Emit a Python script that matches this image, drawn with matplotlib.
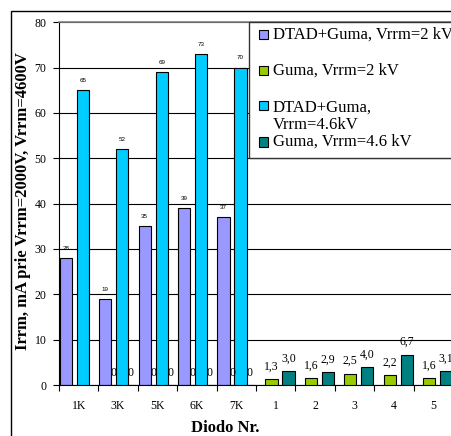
import numpy as np
import matplotlib
matplotlib.use("Agg")
import matplotlib.pyplot as plt
from matplotlib.patches import Rectangle

# Reverse current of the diodes, grouped by diode number
categories = ["1K", "3K", "5K", "6K", "7K", "1", "2", "3", "4", "5"]
nan = np.nan
dtad_2kv = [28, 19, 35, 39, 37, nan, nan, nan, nan, nan]
guma_2kv = [nan, 0, 0, 0, 0, 1.3, 1.6, 2.5, 2.2, 1.6]
dtad_46kv = [65, 52, 69, 73, 70, nan, nan, nan, nan, nan]
guma_46kv = [nan, 0, 0, 0, 0, 3.0, 2.9, 4.0, 6.7, 3.1]

series_names = ["DTAD+Guma, Vrrm=2 kV", "Guma, Vrrm=2 kV",
                "DTAD+Guma,\nVrrm=4.6kV", "Guma, Vrrm=4.6 kV"]
colors = ["#9999FF", "#99CC00", "#00CCFF", "#008080"]
y_ticks = [0, 10, 20, 30, 40, 50, 60, 70, 80]

SERIF = "Liberation Serif"
SANS = "Liberation Sans"

W, H = 451, 436
fig = plt.figure(figsize=(W / 100, H / 100), dpi=100)


def fx(x):
    return x / W


def fy(y):
    return 1 - y / H


ax = fig.add_axes([fx(59), fy(385), (453 - 59) / W, (385 - 22.3) / H])

x = np.arange(len(categories))
offsets = [-0.325, -0.108, 0.108, 0.325]
bar_w = 0.31
data = [dtad_2kv, guma_2kv, dtad_46kv, guma_46kv]


def comma_label(v):
    return "0" if v == 0 else f"{v:.1f}".replace(".", ",")


for k, (vals, off, col) in enumerate(zip(data, offsets, colors)):
    vals = np.asarray(vals, dtype=float)
    ok = ~np.isnan(vals)
    ax.bar(x[ok] + off, vals[ok], width=bar_w, color=col,
           edgecolor="black", linewidth=0.8, zorder=2 + k)
    for xi, v in zip(x[ok] + off, vals[ok]):
        if k in (0, 2):
            ax.annotate(f"{v:.0f}", (xi, v), xytext=(0, 6), textcoords="offset points",
                        ha="center", va="baseline", fontsize=4.5, family=SANS, zorder=10)
        else:
            ax.annotate(comma_label(v), (xi, v), xytext=(0, 6.8), textcoords="offset points",
                        ha="center", va="baseline", fontsize=8.5, family=SERIF, zorder=10)

ax.set_xlim(-0.5, len(categories) - 0.5)
ax.set_ylim(0, 80)
ax.set_yticks(y_ticks)
ax.set_yticklabels([str(t) for t in y_ticks], family=SERIF, fontsize=8.5)
ax.set_xticks(x)
ax.set_xticklabels(categories, family=SERIF, fontsize=8.5)
ax.set_xticks(np.arange(-0.5, len(categories), 1), minor=True)
ax.tick_params(axis="x", which="major", length=0, pad=11)
ax.tick_params(axis="x", which="minor", length=4, width=0.8, direction="out")
ax.tick_params(axis="y", length=4, width=0.8, direction="out", pad=5)

ax.yaxis.grid(True, color="black", linewidth=0.8)
ax.set_axisbelow(True)
for side in ("left", "bottom"):
    ax.spines[side].set_color("black")
    ax.spines[side].set_linewidth(0.8)
ax.spines["top"].set_color("#808080")
ax.spines["top"].set_linewidth(1.2)
ax.spines["right"].set_visible(False)

ax.set_xlabel("Diodo Nr.", family=SERIF, fontsize=12, fontweight="bold")
ax.xaxis.set_label_coords(0.5, fy(420), transform=fig.transFigure)
fig.text(fx(23), fy(201), "Irrm, mA prie Vrrm=2000V, Vrrm=4600V", rotation=90,
         ha="center", va="center", family=SERIF, fontsize=12, fontweight="bold")

# Chart-area frame
fig.add_artist(Rectangle((fx(11), -0.2), 2, fy(11) + 0.2, fill=False,
                         edgecolor="black", linewidth=1, transform=fig.transFigure))

# Legend panel
fig.add_artist(Rectangle((fx(249), fy(158)), 1, (158 - 22) / H, facecolor="white",
                         edgecolor="#333333", linewidth=1, transform=fig.transFigure,
                         zorder=5))
entry_y = [35, 71, 116.5, 142]
marker_y = [35, 71, 106, 142]
for name, col, ty, my in zip(series_names, colors, entry_y, marker_y):
    fig.add_artist(Rectangle((fx(258.5), fy(my + 4.5)), 9 / W, 9 / H, facecolor=col,
                             edgecolor="black", linewidth=0.8,
                             transform=fig.transFigure, zorder=6))
    fig.text(fx(273), fy(ty), name, ha="left", va="center", family=SERIF,
             fontsize=12, linespacing=1.1, zorder=7)

fig.savefig("out.png", dpi=100)
